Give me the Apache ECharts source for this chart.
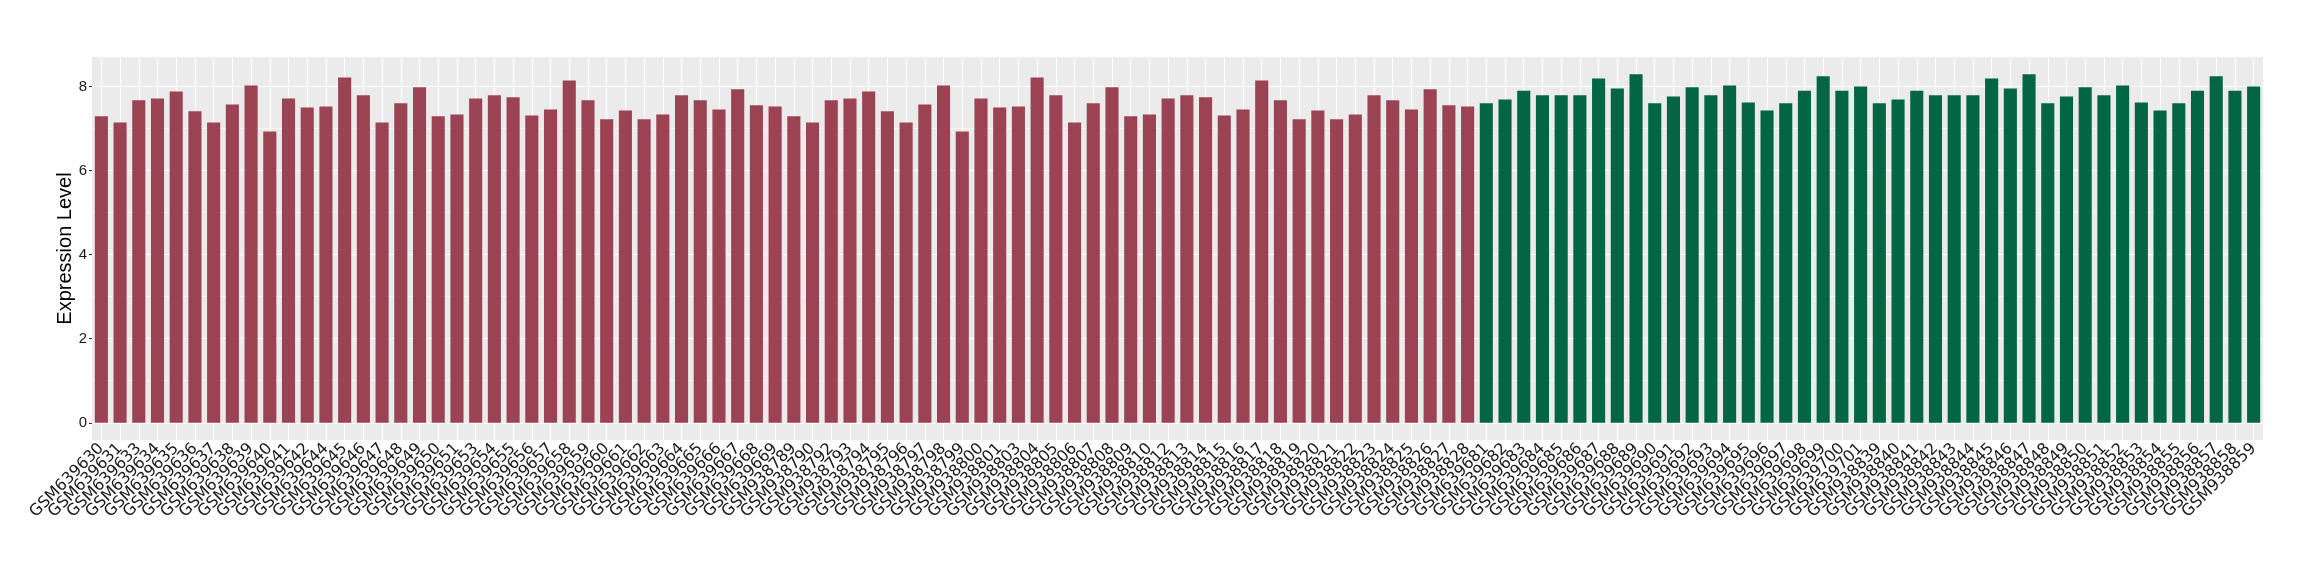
<!DOCTYPE html>
<html>
<head>
<meta charset="utf-8">
<script src="https://cdn.jsdelivr.net/npm/echarts@6/dist/echarts.min.js"></script>
<style>
  html, body { margin: 0; padding: 0; background: #fff; }
  #chart { width: 2320px; height: 580px; }
</style>
</head>
<body>
<div id="chart"></div>
<script>
// samples of the first group (red)
const redSamples = [
  'GSM639630', 'GSM639631', 'GSM639633', 'GSM639634', 'GSM639635', 'GSM639636', 'GSM639637', 'GSM639638',
  'GSM639639', 'GSM639640', 'GSM639641', 'GSM639642', 'GSM639644', 'GSM639645', 'GSM639646', 'GSM639647',
  'GSM639648', 'GSM639649', 'GSM639650', 'GSM639651', 'GSM639653', 'GSM639654', 'GSM639655', 'GSM639656',
  'GSM639657', 'GSM639658', 'GSM639659', 'GSM639660', 'GSM639661', 'GSM639662', 'GSM639663', 'GSM639664',
  'GSM639665', 'GSM639666', 'GSM639667', 'GSM639668', 'GSM639669',
  'GSM938789', 'GSM938790', 'GSM938792', 'GSM938793', 'GSM938794', 'GSM938795', 'GSM938796', 'GSM938797',
  'GSM938798', 'GSM938799', 'GSM938800', 'GSM938801', 'GSM938803', 'GSM938804', 'GSM938805', 'GSM938806',
  'GSM938807', 'GSM938808', 'GSM938809', 'GSM938810', 'GSM938812', 'GSM938813', 'GSM938814', 'GSM938815',
  'GSM938816', 'GSM938817', 'GSM938818', 'GSM938819', 'GSM938820', 'GSM938821', 'GSM938822', 'GSM938823',
  'GSM938824', 'GSM938825', 'GSM938826', 'GSM938827', 'GSM938828'
]
const redValues = [
  7.29, 7.14, 7.67, 7.71, 7.88, 7.41, 7.14, 7.57, 8.02, 6.93, 7.71, 7.50, 7.52, 8.21, 7.79, 7.14,
  7.60, 7.98, 7.29, 7.33, 7.71, 7.79, 7.74, 7.31, 7.45, 8.14, 7.67, 7.22, 7.43, 7.22, 7.33, 7.79,
  7.67, 7.45, 7.93, 7.55, 7.52,
  7.29, 7.14, 7.67, 7.71, 7.88, 7.41, 7.14, 7.57, 8.02, 6.93, 7.71, 7.50, 7.52, 8.21, 7.79, 7.14,
  7.60, 7.98, 7.29, 7.33, 7.71, 7.79, 7.74, 7.31, 7.45, 8.14, 7.67, 7.22, 7.43, 7.22, 7.33, 7.79,
  7.67, 7.45, 7.93, 7.55, 7.52
]

// samples of the second group (green)
const greenSamples = [
  'GSM639681', 'GSM639682', 'GSM639683', 'GSM639684', 'GSM639685', 'GSM639686', 'GSM639687', 'GSM639688',
  'GSM639689', 'GSM639690', 'GSM639691', 'GSM639692', 'GSM639693', 'GSM639694', 'GSM639695', 'GSM639696',
  'GSM639697', 'GSM639698', 'GSM639699', 'GSM639700', 'GSM639701',
  'GSM938839', 'GSM938840', 'GSM938841', 'GSM938842', 'GSM938843', 'GSM938844', 'GSM938845', 'GSM938846',
  'GSM938847', 'GSM938848', 'GSM938849', 'GSM938850', 'GSM938851', 'GSM938852', 'GSM938853', 'GSM938854',
  'GSM938855', 'GSM938856', 'GSM938857', 'GSM938858', 'GSM938859'
]
const greenValues = [
  7.60, 7.69, 7.90, 7.79, 7.79, 7.79, 8.19, 7.95, 8.29, 7.60, 7.76, 7.98, 7.79, 8.02, 7.62, 7.43,
  7.60, 7.90, 8.24, 7.90, 8.00,
  7.60, 7.69, 7.90, 7.79, 7.79, 7.79, 8.19, 7.95, 8.29, 7.60, 7.76, 7.98, 7.79, 8.02, 7.62, 7.43,
  7.60, 7.90, 8.24, 7.90, 8.00
]

// y axis ticks and grid lines
const yTicks = [0, 2, 4, 6, 8]
const yMinor = [1, 3, 5, 7]

const RED = '#9B4352'
const GREEN = '#026645'
const FONT = '"Liberation Sans", Arial, sans-serif'
const LABEL_FONT = '"DejaVu Sans", sans-serif'

const categories = redSamples.concat(greenSamples)
const barData = redValues.map(v => ({ value: v, itemStyle: { color: RED } }))
  .concat(greenValues.map(v => ({ value: v, itemStyle: { color: GREEN } })))

// ggplot-like panel grid, drawn under the bars
const gridLines = []
yTicks.forEach(v => gridLines.push({ yAxis: v, lineStyle: { color: '#fff', width: 1.2, type: 'solid' } }))
yMinor.forEach(v => gridLines.push({ yAxis: v, lineStyle: { color: '#fff', width: 0.6, type: 'solid' } }))
categories.forEach(c => gridLines.push({ xAxis: c, lineStyle: { color: '#fff', width: 1.2, type: 'solid' } }))

const chart = echarts.init(document.getElementById('chart'))

const option = {
  animation: false,
  backgroundColor: '#fff',
  grid: {
    left: 92,
    top: 57,
    width: 2171,
    height: 383,
    show: true,
    backgroundColor: '#EBEBEB',
    borderWidth: 0
  },
  xAxis: {
    type: 'category',
    data: categories,
    axisLine: { show: false },
    axisTick: {
      show: true,
      alignWithLabel: true,
      length: 4,
      lineStyle: { color: '#333' }
    },
    axisLabel: {
      interval: 0,
      rotate: 45,
      margin: 6,
      fontSize: 16,
      color: '#1A1A1A',
      fontFamily: LABEL_FONT
    },
    splitLine: { show: false }
  },
  yAxis: {
    type: 'value',
    min: -0.41,
    max: 8.7,
    name: 'Expression Level',
    nameLocation: 'middle',
    nameGap: 17,
    nameMoveOverlap: false,
    nameTextStyle: { fontSize: 20, color: '#000', fontFamily: FONT },
    axisLine: { show: false },
    axisTick: {
      show: true,
      length: 3,
      customValues: yTicks,
      lineStyle: { color: '#333' }
    },
    axisLabel: {
      customValues: yTicks,
      margin: 5,
      fontSize: 15,
      color: '#1A1A1A',
      fontFamily: FONT
    },
    splitLine: { show: false }
  },
  series: [
    {
      type: 'bar',
      data: barData,
      barCategoryGap: '30%',
      z: 2,
      markLine: {
        silent: true,
        z: 1,
        symbol: ['none', 'none'],
        label: { show: false },
        emphasis: { disabled: true },
        data: gridLines
      }
    }
  ]
}

chart.setOption(option)
</script>
</body>
</html>
